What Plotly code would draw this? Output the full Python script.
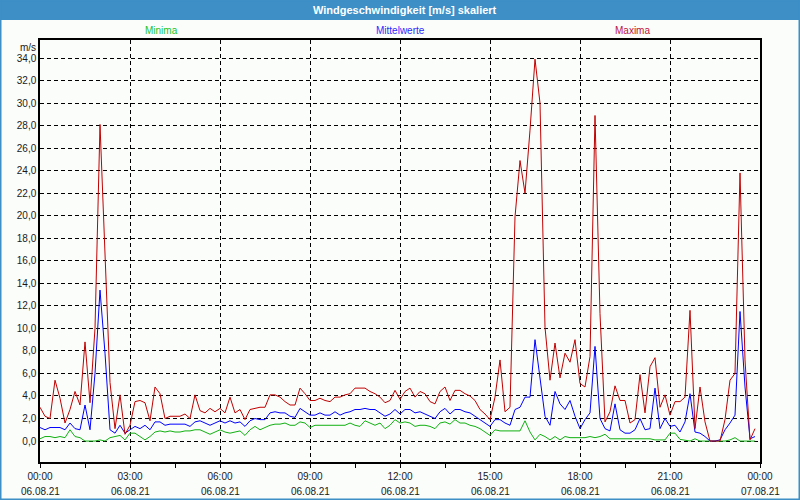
import pandas as pd
import plotly.graph_objects as go

# ---- data (10-minute values, 06.08.21) ----
start_time = "2021-08-06 00:00"

maxima = [3.0, 2.2, 2.0, 5.4, 3.8, 1.6, 2.8, 4.4, 3.2, 8.8, 3.4, 10.0, 28.1, 16.0, 5.2, 1.1, 4.1, 0.6, 1.4, 3.5,
          3.6, 3.4, 1.8, 4.8, 4.2, 2.0, 2.2, 2.2, 2.2, 2.4, 2.0, 4.1, 2.7, 2.5, 2.9, 2.6, 2.9, 2.5, 3.9, 2.5,
          2.8, 1.9, 2.8, 2.9, 3.0, 3.0, 4.1, 4.1, 3.9, 3.5, 3.2, 3.2, 4.7, 4.2, 3.6, 3.6, 3.8, 3.6, 3.5, 3.9,
          3.9, 4.1, 4.2, 4.7, 4.7, 4.7, 4.4, 4.2, 3.9, 3.4, 3.6, 4.5, 3.7, 4.4, 4.7, 3.9, 4.4, 4.2, 3.5, 3.3,
          4.4, 4.8, 3.6, 4.5, 4.5, 4.2, 4.0, 3.6, 2.8, 2.4, 1.9, 3.9, 7.2, 2.6, 3.0, 19.9, 24.9, 22.0, 27.6, 33.9,
          30.0, 10.1, 5.4, 8.7, 5.6, 7.8, 7.0, 9.0, 5.1, 4.8, 7.5, 28.9, 11.3, 1.7, 2.6, 4.9, 3.6, 3.6, 1.6, 1.9,
          5.9, 2.5, 6.6, 7.4, 3.0, 4.1, 2.3, 3.5, 3.5, 3.9, 11.6, 1.1, 4.8, 1.7, 0.0, 0.0, 0.0, 1.9, 5.4, 6.0,
          23.8, 7.2, 0.1, 1.1]

mittelwerte = [1.2, 1.0, 1.2, 1.2, 1.2, 1.0, 1.6, 1.1, 1.0, 3.2, 1.0, 6.0, 13.4, 7.8, 1.0, 0.7, 1.4, 0.7, 1.0, 1.3,
               1.1, 1.4, 1.0, 1.7, 1.7, 1.4, 1.5, 1.5, 1.5, 1.5, 1.3, 1.7, 1.8, 1.6, 1.4, 1.6, 1.8, 1.6, 1.8, 1.6,
               1.7, 1.3, 1.8, 2.0, 1.9, 1.9, 2.5, 2.6, 2.5, 2.5, 2.2, 2.1, 2.9, 2.6, 2.3, 2.3, 2.5, 2.3, 2.3, 2.6,
               2.3, 2.5, 2.6, 2.8, 2.8, 2.9, 2.8, 2.8, 2.5, 2.2, 2.4, 2.8, 2.4, 2.8, 2.8, 2.5, 2.6, 2.4, 2.2, 2.0,
               2.6, 2.9, 2.4, 2.8, 2.8, 2.6, 2.5, 2.2, 1.9, 1.6, 1.3, 1.9, 1.9, 1.6, 1.4, 2.8, 3.0, 3.9, 3.9, 9.0,
               5.7, 2.2, 1.4, 4.4, 3.3, 2.8, 3.6, 2.2, 1.1, 1.9, 2.5, 8.4, 2.0, 1.1, 0.9, 3.3, 1.0, 0.7, 0.7, 1.0,
               2.0, 1.0, 1.1, 4.7, 1.1, 2.0, 1.3, 1.4, 0.8, 1.7, 4.2, 0.8, 0.7, 0.4, 0.0, 0.0, 0.1, 1.0, 1.6, 2.3,
               11.5, 4.8, 0.2, 0.4]

minima = [0.2, 0.4, 0.4, 0.3, 0.4, 0.3, 1.0, 0.4, 0.3, 0.0, 0.0, 0.0, 0.1, 0.0, 0.3, 0.4, 0.5, 0.1, 0.7, 0.7,
          0.4, 0.1, 0.4, 0.8, 0.9, 0.8, 0.9, 0.8, 0.8, 0.9, 0.9, 1.0, 1.0, 0.8, 0.6, 0.8, 1.0, 0.8, 0.7, 0.8,
          0.9, 0.5, 1.0, 1.3, 1.0, 1.2, 1.4, 1.5, 1.5, 1.6, 1.4, 1.4, 1.7, 1.6, 1.2, 1.4, 1.4, 1.4, 1.4, 1.4,
          1.4, 1.4, 1.6, 1.4, 1.3, 1.8, 1.6, 1.4, 1.6, 1.1, 1.4, 1.9, 1.6, 1.7, 1.6, 1.3, 1.4, 1.4, 1.3, 1.1,
          1.6, 1.7, 1.5, 1.9, 1.6, 1.6, 1.4, 1.3, 1.1, 0.8, 0.5, 1.0, 0.9, 0.9, 0.9, 0.9, 0.9, 1.8, 0.8, 0.1,
          0.6, 0.4, 0.1, 0.4, 0.1, 0.4, 0.3, 0.3, 0.3, 0.3, 0.4, 0.3, 0.4, 0.6, 0.2, 0.2, 0.2, 0.15, 0.15, 0.15,
          0.15, 0.2, 0.2, 0.1, 0.1, 0.1, 0.7, 0.7, 0.15, 0.1, 0.0, 0.2, 0.0, 0.0, 0.0, 0.0, 0.0, 0.0, 0.1, 0.3,
          0.0, 0.0, 0.0, 0.0]

tick_times = ["2021-08-06 00:00", "2021-08-06 03:00", "2021-08-06 06:00", "2021-08-06 09:00",
              "2021-08-06 12:00", "2021-08-06 15:00", "2021-08-06 18:00", "2021-08-06 21:00",
              "2021-08-07 00:00"]
tick_hours = ["00:00", "03:00", "06:00", "09:00", "12:00", "15:00", "18:00", "21:00", "00:00"]
tick_dates = ["06.08.21"] * 8 + ["07.08.21"]

series_names = ["Minima", "Mittelwerte", "Maxima"]
series_colors = ["#10b010", "#0000ff", "#c00000"]
label_colors = ["#22c322", "#2a2aff", "#c0143c"]

times = pd.date_range(start_time, periods=len(maxima), freq="10min")

fig = go.Figure()
for name, vals, col in zip(series_names, [minima, mittelwerte, maxima], series_colors):
    fig.add_trace(go.Scatter(x=times, y=vals, mode="lines", name=name,
                             line=dict(color=col, width=1), showlegend=False))

W, H = 800, 500
ml, mr, mt, mb = 40, 40, 40, 38
pw, ph = W - ml - mr, H - mt - mb
bg = "#fbfdfb"

fig.update_layout(
    width=W, height=H,
    margin=dict(l=ml, r=mr, t=mt, b=mb, pad=0),
    paper_bgcolor=bg, plot_bgcolor=bg,
    separators=",.",
    font=dict(family="Liberation Sans, Arial, sans-serif", size=10, color="#1a1a1a"),
)

fig.update_xaxes(
    range=[tick_times[0], tick_times[-1]],
    tickmode="array", tickvals=tick_times, ticktext=tick_hours,
    ticks="outside", ticklen=4, tickcolor="black",
    showline=True, mirror=True, linecolor="black", linewidth=1.5,
    showgrid=True, gridcolor="black", gridwidth=1, griddash="4px,3px",
    zeroline=False, automargin=False,
    minor=dict(tick0="2021-08-06 01:30", dtick=10800000, ticks="outside", ticklen=4,
               tickcolor="black", showgrid=False),
    tickfont=dict(size=10, color="#1a1a1a"),
)
fig.update_yaxes(
    range=[-1.86, 35.6], tick0=0, dtick=2, tickformat=".1f",
    ticks="", showline=True, mirror=True, linecolor="black", linewidth=1.5,
    showgrid=True, gridcolor="black", gridwidth=1, griddash="4px,3px",
    zeroline=False, automargin=False,
    tickfont=dict(size=10, color="#1a1a1a"),
)

# date line below the time labels
for t, d in zip(tick_times, tick_dates):
    fig.add_annotation(x=t, y=0, xref="x", yref="paper", text=d, showarrow=False,
                       yanchor="top", yshift=-22, font=dict(size=10, color="#1a1a1a"))

# window title bar and frame
fig.add_shape(type="rect", xref="paper", yref="paper",
              x0=-ml / pw, x1=1 + mr / pw, y0=1 + (mt - 20) / ph, y1=1 + mt / ph,
              fillcolor="#3d8fc6", line=dict(width=0), layer="below")
fig.add_shape(type="rect", xref="paper", yref="paper",
              x0=-ml / pw, x1=1 + mr / pw, y0=-mb / ph, y1=1 + mt / ph,
              fillcolor="rgba(0,0,0,0)", line=dict(color="#3d8fc6", width=3))
fig.add_annotation(x=0.5, y=1 + (mt - 10) / ph, xref="paper", yref="paper",
                   text="<b>Windgeschwindigkeit [m/s] skaliert</b>", showarrow=False,
                   xshift=5, yanchor="middle", font=dict(size=11, color="white"))

# legend labels
for name, col, xp in zip(series_names, label_colors, [0.143, 0.5, 0.85]):
    fig.add_annotation(x=xp, y=1 + 10 / ph, xref="paper", yref="paper", text=name,
                       showarrow=False, yanchor="middle", font=dict(size=10, color=col))

# unit label
fig.add_annotation(x=0, y=1, xref="paper", yref="paper", text="m/s", showarrow=False,
                   xanchor="right", yanchor="top", xshift=-2, yshift=0,
                   font=dict(size=10, color="#1a1a1a"))

fig.write_html("out.html", config={"displayModeBar": False},
               post_script="document.body.style.margin='0';document.body.style.overflow='hidden';")
